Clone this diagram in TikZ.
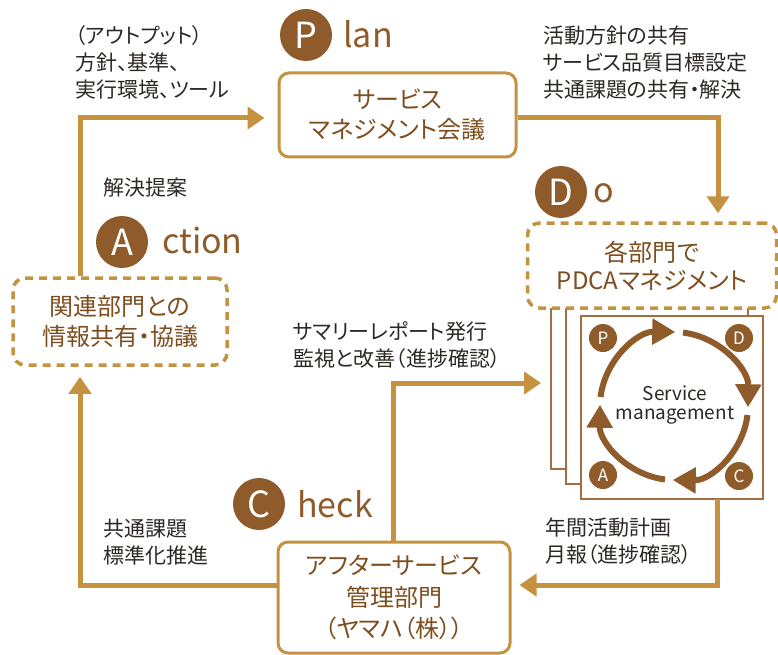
\documentclass[tikz,border=0pt]{standalone}
\usepackage{fontspec}
\setmainfont{Noto Sans CJK JP}[RawFeature=+palt]
\usetikzlibrary{arrows.meta}
\definecolor{gold}{RGB}{197,147,64}
\definecolor{brn}{RGB}{143,91,42}
\definecolor{btxt}{RGB}{125,78,30}
\definecolor{lbltxt}{RGB}{45,40,38}
\definecolor{pg}{RGB}{160,110,65}
\tikzset{
  flow/.style={draw=gold, line width=5pt, -{Triangle[length=17pt,width=22pt]}},
  solidbox/.style={draw=gold, line width=3pt, rounded corners=10pt, fill=white, text=btxt, align=center, font=\fontsize{24}{30}\selectfont, inner sep=0pt},
  dashbox/.style={solidbox, dash pattern=on 8pt off 6pt, line width=3.5pt, rounded corners=12pt},
  bigc/.style={circle, fill=brn, text=white, minimum size=52pt, inner sep=0pt, font=\fontsize{36}{36}\selectfont},
  biglbl/.style={text=brn, font=\fontsize{34}{34}\selectfont, anchor=base west, inner sep=0pt},
  lbl/.style={text=lbltxt, align=left, anchor=west, font=\fontsize{21}{27}\selectfont, inner sep=0pt},
  pagebox/.style={draw=pg, line width=1.5pt, fill=white, inner sep=0pt, outer sep=0pt, anchor=north west, minimum width=182pt},
  cycarrow/.style={draw=brn, line width=6pt, -{Triangle[length=23pt,width=25pt]}},
  smallc/.style={circle, fill=brn, text=white, minimum size=28pt, inner sep=0pt, font=\fontsize{17}{17}\selectfont}
}
\begin{document}
\begin{tikzpicture}[x=1pt,y=1pt]
\useasboundingbox (0,0) rectangle (778,-655);
% stacked pages
\node[pagebox, minimum height=179pt] (page1) at (551,-290) {};
\node[pagebox, minimum height=184pt] (page2) at (566,-300) {};
\node[pagebox, minimum height=183pt] (page3) at (581,-316) {};
% boxes
\node[solidbox, minimum width=237pt, minimum height=84pt] (planbox) at (397.5,-115) {サービス\\マネジメント会議};
\node[dashbox, minimum width=249pt, minimum height=85pt, font=\fontsize{24}{28}\selectfont] (dobox) at (652,-265.5) {各部門で\\PDCAマネジメント};
\node[dashbox, minimum width=214pt, minimum height=87pt] (abox) at (120,-321.5) {関連部門との\\情報共有・協議};
\node[solidbox, minimum width=232pt, minimum height=111pt, font=\fontsize{24}{31.5}\selectfont] (cbox) at (394,-597.5) {アフターサービス\\管理部門\\（ヤマハ（株））};
% PDCA headings
\node[bigc] (pc) at (306,-35) {P};
\node[biglbl] (pl) at (343,-48) {lan};
\node[bigc] (dc) at (561,-192) {D};
\node[biglbl] (dl) at (593,-202) {o};
\node[bigc] (ac) at (122,-242) {A};
\node[biglbl] (al) at (162,-253) {ction};
\node[bigc] (cc) at (259,-504) {C};
\node[biglbl] (cl) at (297,-517) {heck};
% labels
\node[lbl] (t1) at (75,-62) {（アウトプット）\\方針、基準、\\実行環境、ツール};
\node[lbl] (t2) at (543,-63) {活動方針の共有\\サービス品質目標設定\\共通課題の共有・解決};
\node[lbl] (t3) at (103,-188) {解決提案};
\node[lbl] (t4) at (293,-345) {サマリーレポート発行\\監視と改善（進捗確認）};
\node[lbl] (t5) at (545,-541) {年間活動計画\\月報（進捗確認）};
\node[lbl] (t6) at (103,-542) {共通課題\\標準化推進};
% connectors
\coordinate (k1) at (80,-118);
\coordinate (k2) at (718,-118);
\coordinate (k3) at (393,-383);
\coordinate (k4) at (717,-585);
\coordinate (k5) at (80,-585);
\draw[flow, shorten >=13pt] (abox.north -| k1) |- (planbox.west |- k1);
\draw[flow, shorten >=8pt] (planbox.east |- k2) -| (dobox.north -| k2);
\draw[flow, shorten >=10pt] (cbox.north -| k3) |- (page1.west |- k3);
\draw[flow, shorten >=8pt] (page3.south -| k4) |- (cbox.east |- k4);
\draw[flow, shorten >=10pt] (cbox.west |- k5) -| (abox.south -| k5);
% cycle
\coordinate (cyc) at (674,-406);
\foreach \s in {173,83,-7,-97}{
  \draw[cycarrow] (cyc) ++(\s:74) arc[start angle=\s, end angle=\s-84, radius=74];
}
\node[text=lbltxt, align=center, font=\fontsize{19}{19}\selectfont, inner sep=0pt] (svc) at (675,-405) {Service\\management};
\node[smallc] (sp) at (603,-338) {P};
\node[smallc] (sd) at (739,-338) {D};
\node[smallc] (sa) at (603,-475) {A};
\node[smallc] (sc) at (739,-476) {C};
\end{tikzpicture}
\end{document}
